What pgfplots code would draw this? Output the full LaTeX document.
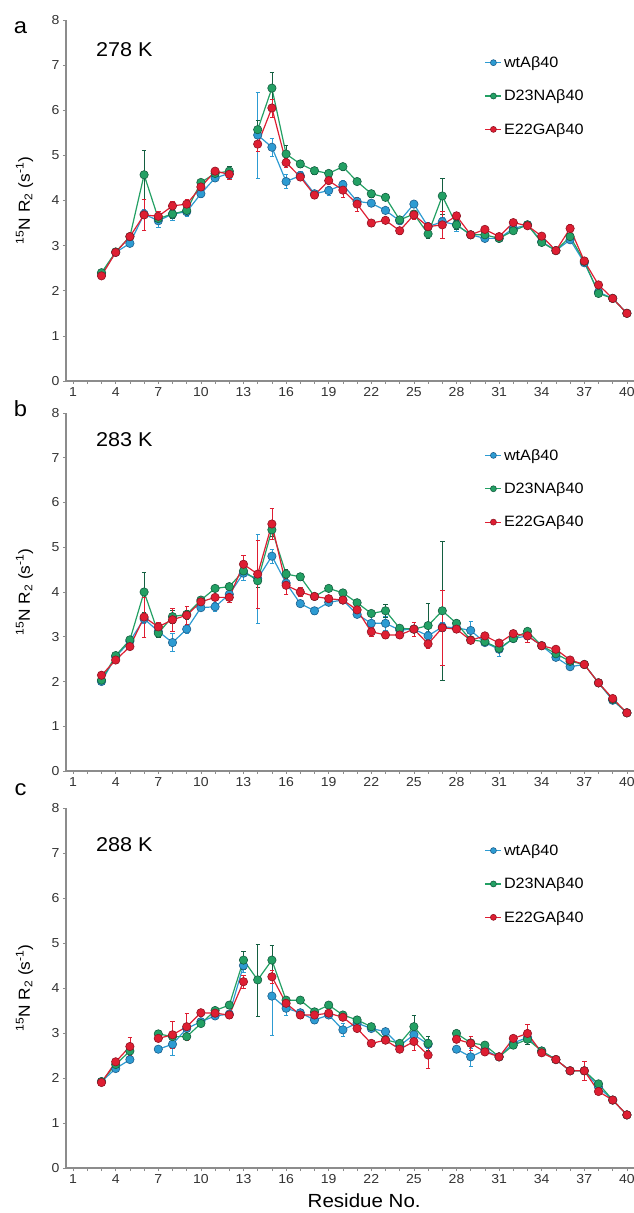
\documentclass[border=0pt]{standalone}
\usepackage{pgfplots}
\pgfplotsset{compat=1.18}
\usepackage{pgfplotstable}
\usepackage{fontspec}
\setmainfont{Liberation Sans}[FakeStretch=1.08]

\definecolor{wtc}{RGB}{45,155,210}
\definecolor{wtd}{RGB}{30,95,140}
\definecolor{dc}{RGB}{35,160,100}
\definecolor{dd}{RGB}{20,95,65}
\definecolor{ec}{RGB}{222,30,50}
\definecolor{ed}{RGB}{145,20,35}
\definecolor{axg}{RGB}{140,140,140}

\pgfplotstableread{
r w we d de e ee
3 2.38 0.05 2.40 0.05 2.33 0.05
4 2.85 0.05 2.86 0.05 2.85 0.05
5 3.05 0.07 3.20 0.07 3.20 0.07
6 3.70 0.10 4.57 0.55 3.68 0.35
7 3.55 0.15 3.60 0.10 3.65 0.10
8 3.70 0.15 3.70 0.10 3.88 0.10
9 3.75 0.10 3.78 0.10 3.92 0.10
10 4.15 0.07 4.40 0.07 4.30 0.07
11 4.50 0.07 4.60 0.07 4.65 0.07
12 4.60 0.10 4.65 0.10 4.58 0.10
13 nan nan nan nan nan nan
14 5.45 0.95 5.57 0.20 5.25 0.15
15 5.18 0.20 6.49 0.35 6.05 0.20
16 4.42 0.15 5.03 0.20 4.84 0.10
17 4.55 0.10 4.81 0.07 4.52 0.07
18 4.15 0.07 4.66 0.07 4.12 0.07
19 4.22 0.10 4.60 0.07 4.44 0.07
20 4.35 0.10 4.75 0.07 4.23 0.15
21 3.98 0.10 4.42 0.07 3.92 0.15
22 3.94 0.07 4.15 0.07 3.50 0.07
23 3.78 0.07 4.07 0.07 3.56 0.07
24 3.55 0.07 3.57 0.07 3.33 0.07
25 3.92 0.07 3.70 0.07 3.68 0.10
26 3.42 0.10 3.26 0.10 3.42 0.07
27 3.53 0.10 4.10 0.40 3.46 0.30
28 3.46 0.15 3.46 0.10 3.66 0.07
29 3.24 0.05 3.24 0.05 3.24 0.05
30 3.16 0.07 3.24 0.07 3.36 0.07
31 3.16 0.05 3.16 0.05 3.20 0.05
32 3.38 0.05 3.33 0.05 3.51 0.05
33 3.46 0.05 3.46 0.05 3.44 0.05
34 3.09 0.05 3.07 0.05 3.21 0.05
35 2.89 0.05 2.89 0.05 2.89 0.05
36 3.13 0.05 3.20 0.05 3.38 0.10
37 2.62 0.05 2.65 0.05 2.66 0.05
38 1.97 0.05 1.94 0.05 2.13 0.05
39 1.83 0.05 1.83 0.05 1.83 0.05
40 1.50 0.05 1.50 0.05 1.50 0.05
}\tabA

\pgfplotstableread{
r w we d de e ee
3 2.00 0.05 2.03 0.05 2.14 0.05
4 2.55 0.05 2.58 0.05 2.48 0.05
5 2.90 0.05 2.93 0.05 2.78 0.05
6 3.40 0.10 4.00 0.45 3.44 0.45
7 3.12 0.10 3.08 0.10 3.22 0.10
8 2.87 0.20 3.45 0.15 3.38 0.25
9 3.17 0.10 3.50 0.10 3.48 0.20
10 3.65 0.07 3.82 0.07 3.78 0.07
11 3.67 0.10 4.08 0.07 3.88 0.07
12 3.95 0.10 4.12 0.07 3.88 0.10
13 4.42 0.15 4.47 0.10 4.62 0.20
14 4.30 1.00 4.25 0.15 4.40 0.76
15 4.80 0.15 5.39 0.15 5.52 0.35
16 4.20 0.10 4.40 0.10 4.15 0.20
17 3.74 0.07 4.34 0.07 4.00 0.10
18 3.58 0.07 3.90 0.07 3.90 0.07
19 3.77 0.07 4.08 0.07 3.85 0.07
20 3.82 0.07 3.98 0.07 3.82 0.07
21 3.50 0.07 3.76 0.07 3.60 0.07
22 3.30 0.15 3.52 0.07 3.11 0.10
23 3.30 0.15 3.58 0.15 3.04 0.07
24 3.15 0.07 3.19 0.07 3.04 0.07
25 3.17 0.07 3.17 0.07 3.17 0.15
26 3.02 0.10 3.25 0.50 2.84 0.10
27 3.22 0.10 3.58 1.55 3.20 0.83
28 3.20 0.10 3.30 0.07 3.17 0.07
29 3.14 0.20 2.93 0.07 2.92 0.07
30 2.87 0.07 2.89 0.07 3.02 0.07
31 2.72 0.15 2.74 0.07 2.86 0.07
32 2.96 0.07 2.96 0.07 3.07 0.07
33 3.02 0.07 3.12 0.07 3.02 0.15
34 2.80 0.05 2.80 0.05 2.80 0.05
35 2.54 0.05 2.62 0.05 2.72 0.05
36 2.33 0.05 2.45 0.05 2.48 0.05
37 2.38 0.05 2.38 0.05 2.38 0.05
38 1.97 0.05 1.97 0.05 1.97 0.05
39 1.58 0.05 1.60 0.05 1.62 0.05
40 1.30 0.05 1.30 0.05 1.30 0.05
}\tabB

\pgfplotstableread{
r w we d de e ee
3 1.92 0.05 1.92 0.05 1.90 0.05
4 2.21 0.05 2.30 0.05 2.36 0.05
5 2.41 0.07 2.60 0.07 2.70 0.20
6 nan nan nan nan nan nan
7 2.64 0.07 2.98 0.07 2.88 0.07
8 2.75 0.25 2.92 0.10 2.96 0.30
9 3.10 0.10 2.92 0.07 3.14 0.30
10 3.25 0.07 3.21 0.07 3.45 0.07
11 3.38 0.07 3.50 0.07 3.44 0.07
12 3.42 0.07 3.62 0.07 3.40 0.07
13 4.50 0.15 4.62 0.20 4.14 0.15
14 nan nan 4.18 0.80 nan nan
15 3.82 0.87 4.62 0.33 4.25 0.15
16 3.55 0.15 3.73 0.07 3.66 0.07
17 3.45 0.07 3.73 0.07 3.40 0.07
18 3.29 0.07 3.47 0.07 3.40 0.07
19 3.40 0.07 3.62 0.07 3.44 0.07
20 3.07 0.15 3.40 0.07 3.35 0.07
21 3.22 0.07 3.29 0.07 3.10 0.07
22 3.10 0.07 3.14 0.07 2.77 0.07
23 3.03 0.07 2.85 0.07 2.84 0.07
24 2.72 0.07 2.77 0.07 2.64 0.07
25 2.96 0.10 3.14 0.25 2.81 0.20
26 2.75 0.10 2.77 0.15 2.51 0.30
27 nan nan nan nan nan nan
28 2.64 0.07 2.99 0.07 2.86 0.07
29 2.47 0.20 2.78 0.07 2.77 0.15
30 2.62 0.07 2.73 0.07 2.58 0.07
31 2.47 0.05 2.47 0.05 2.47 0.05
32 2.78 0.07 2.73 0.07 2.88 0.07
33 2.90 0.10 2.86 0.10 2.99 0.20
34 2.60 0.05 2.60 0.05 2.56 0.05
35 2.41 0.05 2.41 0.05 2.41 0.05
36 2.16 0.05 2.16 0.05 2.16 0.05
37 2.16 0.05 2.16 0.05 2.16 0.20
38 1.80 0.05 1.87 0.05 1.70 0.05
39 1.51 0.05 1.51 0.05 1.51 0.05
40 1.18 0.05 1.18 0.05 1.18 0.05
}\tabC

\pgfplotsset{
  panel/.style={
    scale only axis, width=568pt,
    xmin=0.5, xmax=40.5, ymin=0, ymax=8,
    axis x line=bottom, axis y line=left,
    axis line style={-, axg, line width=1.4pt},
    xtick={1,4,...,40}, minor xtick={1,...,40},
    ytick={0,1,...,8},
    tick align=outside, major tick length=3pt, minor tick length=3pt,
    every tick/.style={axg, line width=0.7pt},
    every minor tick/.style={axg, line width=0.7pt},
    tick label style={font=\fontsize{13}{13}\selectfont, text=black!80},
    /pgf/number format/assume math mode=true,
    unbounded coords=jump, clip=false,
    ylabel={\textsuperscript{15}N R\textsubscript{2} (s\textsuperscript{-1})},
    every axis y label/.style={at={(axis description cs:-0.073,0.5)}, anchor=center, rotate=90, font=\fontsize{16}{16}\selectfont},
    legend style={at={(0.737,0.905)}, anchor=north west, draw=none, fill=none,
      font=\fontsize{15}{15}\selectfont, row sep=17pt, inner sep=0pt,
      legend cell align=left},
    legend image code/.code={\draw[mark repeat=2, mark phase=2, #1, mark size=3pt] plot coordinates {(0pt,0pt) (8pt,0pt) (16pt,0pt)};},
  },
  wt/.style={color=wtc, line width=1.2pt, mark=*, mark size=4.2pt,
    mark options={fill=wtc, draw=wtd, line width=0.6pt},
    error bars/.cd, y dir=both, y explicit,
    error bar style={wtc, line width=0.6pt},
    error mark options={rotate=90, mark size=2.2pt, wtc, line width=0.6pt}},
  dn/.style={color=dc, line width=1.2pt, mark=*, mark size=4.2pt,
    mark options={fill=dc, draw=dd, line width=0.6pt},
    error bars/.cd, y dir=both, y explicit,
    error bar style={dd, line width=0.6pt},
    error mark options={rotate=90, mark size=2.2pt, dd, line width=0.6pt}},
  eg/.style={color=ec, line width=1.2pt, mark=*, mark size=4.2pt,
    mark options={fill=ec, draw=ed, line width=0.6pt},
    error bars/.cd, y dir=both, y explicit,
    error bar style={ec, line width=0.6pt},
    error mark options={rotate=90, mark size=2.2pt, ec, line width=0.6pt}},
}

\begin{document}
\begin{tikzpicture}
\useasboundingbox (0,0) rectangle (634pt,1213pt);

% panel a
\begin{axis}[panel, at={(66pt,832pt)}, anchor=south west, height=361pt]
\addplot[wt] table[x=r, y=w, y error=we] {\tabA};
\addplot[dn] table[x=r, y=d, y error=de] {\tabA};
\addplot[eg] table[x=r, y=e, y error=ee] {\tabA};
\legend{wtAβ40, D23NAβ40, E22GAβ40}
\node[anchor=west, font=\fontsize{20}{20}\selectfont] at (rel axis cs:0.047,0.917) {278 K};
\node[font=\fontsize{22}{22}\selectfont] at (rel axis cs:-0.08,0.98) {a};
\end{axis}

% panel b
\begin{axis}[panel, at={(66pt,442pt)}, anchor=south west, height=358pt]
\addplot[wt] table[x=r, y=w, y error=we] {\tabB};
\addplot[dn] table[x=r, y=d, y error=de] {\tabB};
\addplot[eg] table[x=r, y=e, y error=ee] {\tabB};
\legend{wtAβ40, D23NAβ40, E22GAβ40}
\node[anchor=west, font=\fontsize{20}{20}\selectfont] at (rel axis cs:0.047,0.925) {283 K};
\node[font=\fontsize{22}{22}\selectfont] at (rel axis cs:-0.08,1.012) {b};
\end{axis}

% panel c
\begin{axis}[panel, at={(66pt,45pt)}, anchor=south west, height=360pt,
  xlabel={Residue No.},
  every axis x label/.style={at={(axis description cs:0.525,0)}, anchor=center, yshift=-33pt, font=\fontsize{19}{19}\selectfont}]
\addplot[wt] table[x=r, y=w, y error=we] {\tabC};
\addplot[dn] table[x=r, y=d, y error=de] {\tabC};
\addplot[eg] table[x=r, y=e, y error=ee] {\tabC};
\legend{wtAβ40, D23NAβ40, E22GAβ40}
\node[anchor=west, font=\fontsize{20}{20}\selectfont] at (rel axis cs:0.047,0.897) {288 K};
\node[font=\fontsize{22}{22}\selectfont] at (rel axis cs:-0.08,1.05) {c};
\end{axis}
\end{tikzpicture}
\end{document}
